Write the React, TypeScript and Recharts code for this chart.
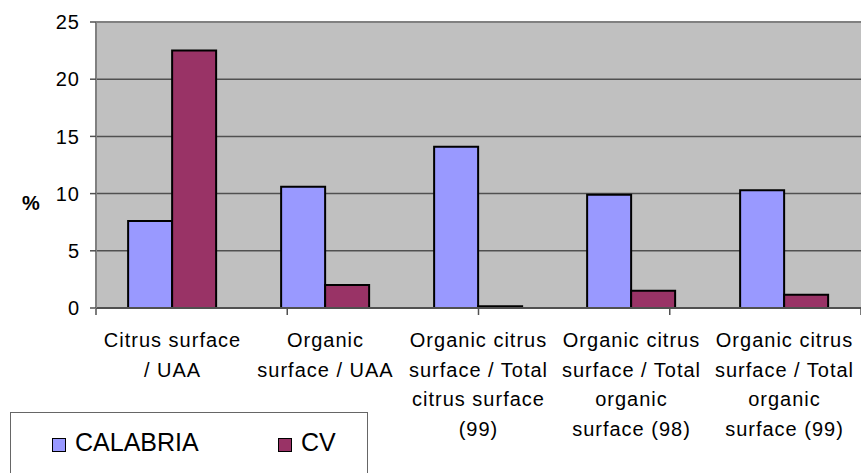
import React from 'react'
import {
  BarChart, Bar, XAxis, YAxis, CartesianGrid, Legend, ReferenceLine, Label
} from 'recharts'

// categories, line breaks as drawn in the original
const categories = [
  'Citrus surface\n/ UAA',
  'Organic\nsurface / UAA',
  'Organic citrus\nsurface / Total\ncitrus surface\n(99)',
  'Organic citrus\nsurface / Total\norganic\nsurface (98)',
  'Organic citrus\nsurface / Total\norganic\nsurface (99)',
]
const calabria = [7.6, 10.6, 14.1, 9.9, 10.3]
const cv = [22.5, 2.0, 0.15, 1.5, 1.15]
const yTicks = [0, 5, 10, 15, 20, 25]
const edgeTicks = [0, 1, 2, 3, 4, 5]

const FONT = '"Liberation Sans", Arial, sans-serif'
const COLORS = { calabria: '#9999FF', cv: '#993366' }

const data = categories.map((c, i) => ({ name: c, calabria: calabria[i], cv: cv[i] }))

function CategoryTick({ x, y, payload }: any) {
  const lines = String(payload.value).split('\n')
  return (
    <text textAnchor="middle" fontFamily={FONT} fontSize={20} letterSpacing={1} fill="#000">
      {lines.map((l, i) => (
        <tspan key={i} x={x} y={y + 39 + i * 29.7}>{l}</tspan>
      ))}
    </text>
  )
}

// only the tick marks are wanted on the category-edge axis
const NoLabel = () => <g />

function LegendBox({ payload }: any) {
  return (
    <div style={{ display: 'flex', paddingTop: 17, paddingLeft: 41, fontFamily: FONT, fontSize: 25, lineHeight: '25px' }}>
      {(payload ?? []).map((p: any, i: number) => (
        <div key={i} style={{ display: 'flex', alignItems: 'flex-start', width: i === 0 ? 226 : 'auto' }}>
          <span style={{ width: 12, height: 12, marginTop: 8, marginRight: 9, background: p.color, border: '1.5px solid #000', display: 'inline-block' }} />
          <span>{p.value}</span>
        </div>
      ))}
    </div>
  )
}

export default function App() {
  return (
    <div style={{ position: 'absolute', left: 0, top: 0, width: 861, height: 473, background: '#fff', overflow: 'hidden' }}>
      <BarChart
        width={861}
        height={473}
        data={data}
        margin={{ top: 22, right: 0, left: 0, bottom: 163 }}
        barCategoryGap="21%"
        barGap={0}
      >
        <CartesianGrid vertical={false} fill="#C0C0C0" fillOpacity={1} stroke="#505050" strokeWidth={1.5} />
        <XAxis
          xAxisId="edges"
          type="number"
          domain={[0, 5]}
          ticks={edgeTicks}
          interval={0}
          tick={<NoLabel />}
          axisLine={false}
          tickLine={{ stroke: '#505050', strokeWidth: 1.5 }}
          tickSize={6}
          height={1}
          allowDataOverflow
        />
        <XAxis
          dataKey="name"
          interval={0}
          height={1}
          tickSize={0}
          tickMargin={0}
          tickLine={false}
          axisLine={false}
          tick={<CategoryTick />}
        />
        <YAxis
          width={96}
          domain={[0, 25]}
          ticks={yTicks}
          interval={0}
          tickSize={6}
          tickMargin={10}
          axisLine={{ stroke: '#808080', strokeWidth: 2 }}
          tickLine={{ stroke: '#505050', strokeWidth: 1.5 }}
          tick={{ fontFamily: FONT, fontSize: 20, letterSpacing: 1, fill: '#000' }}
        >
          <Label value="%" position="insideLeft" offset={22} dy={38} fontFamily={FONT} fontSize={20} fontWeight="bold" fill="#000" />
        </YAxis>
        <ReferenceLine y={25} stroke="#808080" strokeWidth={2} />
        <ReferenceLine y={0} stroke="#505050" strokeWidth={2} />
        <Legend
          layout="horizontal"
          verticalAlign="middle"
          align="center"
          content={<LegendBox />}
          wrapperStyle={{ position: 'absolute', left: 10, top: 412, width: 358, height: 90, border: '1px solid #666', background: '#fff', boxSizing: 'border-box' }}
        />
        <Bar dataKey="calabria" name="CALABRIA" fill={COLORS.calabria} stroke="#000" strokeWidth={2} isAnimationActive={false} />
        <Bar dataKey="cv" name="CV" fill={COLORS.cv} stroke="#000" strokeWidth={2} isAnimationActive={false} />
      </BarChart>
    </div>
  )
}
